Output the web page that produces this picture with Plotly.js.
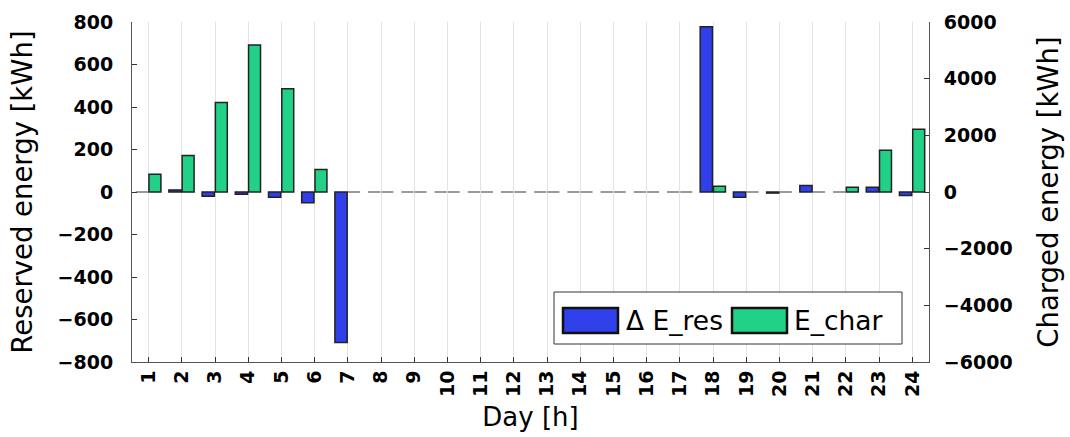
<!DOCTYPE html>
<html>
<head>
<meta charset="utf-8">
<script src="https://cdn.plot.ly/plotly-3.0.1.min.js"></script>
<style>html,body{margin:0;padding:0;background:#fff;}#chart{width:1070px;height:437px;}</style>
</head>
<body>
<div id="chart"></div>
<script>
const hours = [1,2,3,4,5,6,7,8,9,10,11,12,13,14,15,16,17,18,19,20,21,22,23,24];
const deltaEres = [0,10,-20,-10,-25,-50,-708,0,0,0,0,0,0,0,0,0,0,778,-25,-5,31,0,22,-17];
const eChar = [625,1285,3155,5190,3640,790,0,0,0,0,0,0,0,0,0,0,0,200,0,0,0,165,1470,2215];
const leftTicks = [-800,-600,-400,-200,0,200,400,600,800];
const rightTicks = [-6000,-4000,-2000,0,2000,4000,6000];
const seriesNames = ['\u0394 E_res','E_char'];

const blue = '#2f3fe9';
const green = '#21d187';
const edge = '#222';
const zeroEdge = '#7a7a7a';
const font = 'DejaVu Sans, sans-serif';

function edgeColors(vals){ return vals.map(v => v === 0 ? zeroEdge : edge); }

const traces = [
  {type:'bar', x:hours, y:deltaEres, name:seriesNames[0], yaxis:'y',
   width:0.37, offset:-0.39,
   marker:{color:blue, line:{color:edgeColors(deltaEres), width:1.5}}, showlegend:false},
  {type:'bar', x:hours, y:eChar, name:seriesNames[1], yaxis:'y2',
   width:0.36, offset:0.01,
   marker:{color:green, line:{color:edgeColors(eChar), width:1.5}}, showlegend:false}
];

const W = 797, H = 340;
function px(x){return (x-132)/W;}
function py(y){return (362-y)/H;}

const layout = {
  width:1070, height:437,
  margin:{l:132, r:141, t:22, b:75},
  paper_bgcolor:'#fff', plot_bgcolor:'#fff',
  font:{family:font, color:'#000'},
  barmode:'overlay',
  xaxis:{
    range:[0.5,24.5], tickvals:hours, ticktext:hours.map(String),
    tickangle:-90, ticks:'inside', ticklen:5, tickcolor:'#333',
    tickfont:{size:19, family:font, weight:'bold'},
    showgrid:true, gridcolor:'#e3e3e3', gridwidth:1,
    showline:true, linecolor:'#555', linewidth:1, mirror:false,
    zeroline:false,
    title:{text:'Day [h]', font:{size:26, family:font}, standoff:11}
  },
  yaxis:{
    range:[-800,800], tickvals:leftTicks, ticktext:leftTicks.map(v=>v<0?'\u2212'+Math.abs(v):String(v)),
    ticks:'inside', ticklen:5, tickcolor:'#333',
    tickfont:{size:19, family:font, weight:'bold'},
    showgrid:false, zeroline:false,
    showline:true, linecolor:'#555', linewidth:1,
    ticklabelstandoff:14,
    title:{text:'Reserved energy [kWh]', font:{size:27.5, family:font}, standoff:16}
  },
  yaxis2:{
    range:[-6000,6000], overlaying:'y', side:'right',
    tickvals:rightTicks, ticktext:rightTicks.map(v=>v<0?'\u2212'+Math.abs(v):String(v)),
    ticks:'inside', ticklen:5, tickcolor:'#333',
    tickfont:{size:19, family:font, weight:'bold'},
    showgrid:false, zeroline:false,
    showline:true, linecolor:'#555', linewidth:1,
    ticklabelstandoff:10,
    title:{text:'Charged energy [kWh]', font:{size:27.5, family:font}, standoff:27}
  },
  shapes:[
    {type:'rect', xref:'paper', yref:'paper', x0:px(554), x1:px(902), y0:py(344), y1:py(292),
     line:{color:'#333', width:1}, fillcolor:'#fff', layer:'above'},
    {type:'rect', xref:'paper', yref:'paper', x0:px(563), x1:px(618), y0:py(333), y1:py(308),
     line:{color:'#111', width:2.5}, fillcolor:blue, layer:'above'},
    {type:'rect', xref:'paper', yref:'paper', x0:px(732), x1:px(787), y0:py(333), y1:py(308),
     line:{color:'#111', width:2.5}, fillcolor:green, layer:'above'}
  ],
  annotations:[
    {xref:'paper', yref:'paper', x:px(624), y:py(320.5), xanchor:'left', yanchor:'middle',
     text:seriesNames[0], showarrow:false, font:{size:26.5, family:font, color:'#000'}},
    {xref:'paper', yref:'paper', x:px(792), y:py(320.5), xanchor:'left', yanchor:'middle',
     text:seriesNames[1], showarrow:false, font:{size:26.5, family:font, color:'#000'}}
  ]
};

Plotly.newPlot('chart', traces, layout, {displayModeBar:false, staticPlot:true});
</script>
</body>
</html>
